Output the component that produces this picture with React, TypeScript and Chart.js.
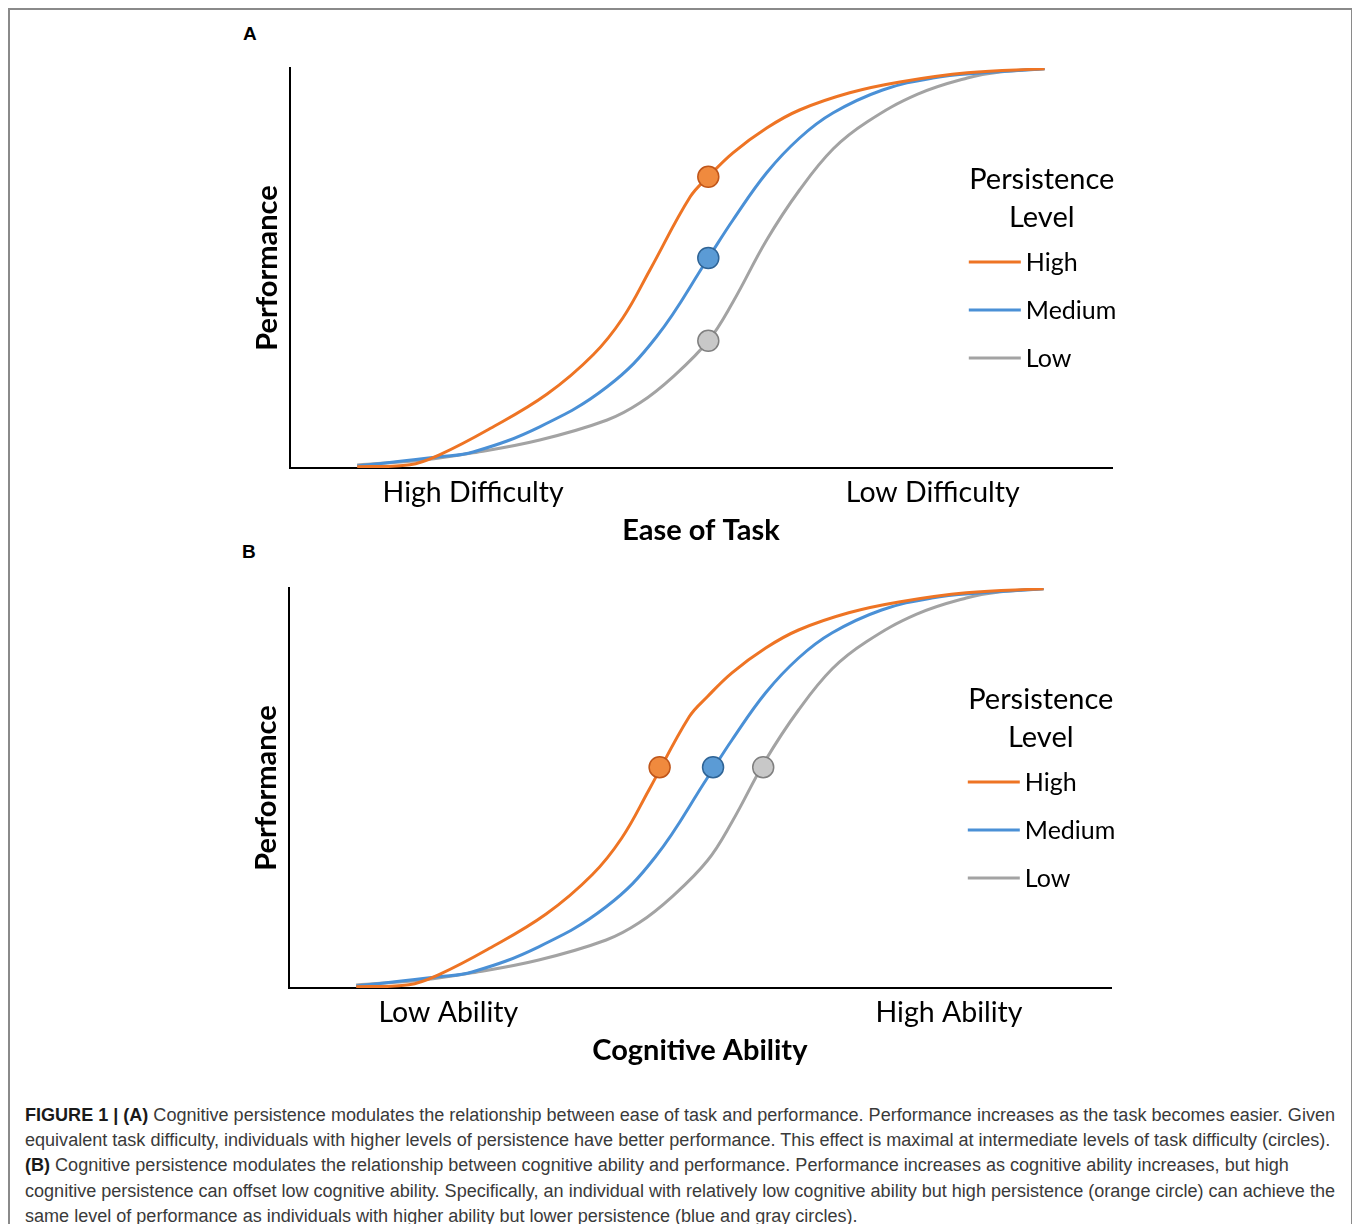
import React, { useEffect, useLayoutEffect, useRef, useState } from "react";
import { Chart, registerables } from "chart.js";

Chart.register(...registerables);

// ---- Data (x: ease / ability, 0–100; y: performance, 0–100) ----
const seriesLabels = ["High", "Medium", "Low"];
const seriesColors = ["#EE7424", "#4A90D6", "#A3A3A3"];
const markerFills = ["#F08A3E", "#5B9BD5", "#C8C8C8"];
const markerBorders = ["#C0561A", "#2F6496", "#808080"];

const highX = [8.2, 14.6, 18.2, 24.3, 31.3, 36.9, 40.5, 43.8, 48.7, 50.9, 53.9, 58.0, 62.0, 68.1, 74.2, 82.4, 91.8];
const highY = [0.3, 0.8, 3.3, 9.8, 18.5, 28.3, 37.5, 49.5, 67.8, 72.8, 78.8, 85.0, 89.5, 93.8, 96.5, 98.8, 99.8];
const mediumX = [8.2, 18.2, 22.3, 30.4, 38.6, 44.6, 50.9, 53.9, 58.0, 62.0, 66.1, 72.1, 78.2, 84.3, 91.8];
const mediumY = [0.5, 2.8, 4.0, 10.3, 20.3, 32.8, 52.5, 62.0, 73.8, 82.5, 88.8, 94.5, 97.5, 98.8, 99.8];
const lowX = [8.2, 16.2, 22.3, 30.4, 38.6, 42.6, 46.6, 50.9, 53.9, 58.0, 62.0, 66.1, 70.2, 76.3, 82.4, 86.4, 91.8];
const lowY = [0.75, 2.0, 3.8, 7.0, 12.0, 16.3, 22.8, 31.8, 41.5, 57.0, 69.5, 79.8, 86.5, 93.4, 97.5, 99.0, 99.8];

// circles (High, Medium, Low)
const dotsAX = [50.9, 50.9, 50.9];
const dotsAY = [72.8, 52.5, 31.8];
const dotsBX = [45.1, 51.6, 57.7];
const dotsBY = [55.2, 55.2, 55.2];

const ticksA = [22.3, 78.2];
const tickLabelsA = ["High Difficulty", "Low Difficulty"];
const ticksB = [19.4, 80.3];
const tickLabelsB = ["Low Ability", "High Ability"];

const legendTitle = ["Persistence", "Level"];

const captionLines = [
  [
    { b: true, t: "FIGURE 1 | (A)" },
    { b: false, t: " Cognitive persistence modulates the relationship between ease of task and performance. Performance increases as the task becomes easier. Given" },
  ],
  [{ b: false, t: "equivalent task difficulty, individuals with higher levels of persistence have better performance. This effect is maximal at intermediate levels of task difficulty (circles)." }],
  [
    { b: true, t: "(B)" },
    { b: false, t: " Cognitive persistence modulates the relationship between cognitive ability and performance. Performance increases as cognitive ability increases, but high" },
  ],
  [{ b: false, t: "cognitive persistence can offset low cognitive ability. Specifically, an individual with relatively low cognitive ability but high persistence (orange circle) can achieve the" }],
  [{ b: false, t: "same level of performance as individuals with higher ability but lower persistence (blue and gray circles)." }],
];

const FONT = "Lato, 'Open Sans', sans-serif";
const FS_TITLE = 29;
const FS_TICK = 28.5;
const FS_ITEM = 25;

const zip = (xs: number[], ys: number[]) => xs.map((x, i) => ({ x, y: ys[i] }));

const legendPlugin = {
  id: "persistenceLegend",
  afterDatasetsDraw(chart: any, _args: any, opts: any) {
    const { ctx, chartArea } = chart;
    ctx.save();
    ctx.fillStyle = "#000";
    ctx.textBaseline = "middle";
    ctx.textAlign = "center";
    ctx.font = `${FS_TITLE}px ${FONT}`;
    legendTitle.forEach((t, i) => {
      ctx.fillText(t, chartArea.left + opts.titleX, chartArea.top + opts.titleY + i * opts.titleGap);
    });
    ctx.textAlign = "left";
    ctx.font = `${FS_ITEM}px ${FONT}`;
    chart.data.datasets.slice(0, 3).forEach((d: any, i: number) => {
      const y = chartArea.top + opts.itemY + i * opts.itemGap;
      ctx.strokeStyle = d.borderColor;
      ctx.lineWidth = 3;
      ctx.beginPath();
      ctx.moveTo(chartArea.left + opts.lineX0, y);
      ctx.lineTo(chartArea.left + opts.lineX1, y);
      ctx.stroke();
      ctx.fillText(d.label, chartArea.left + opts.textX, y + 1);
    });
    ctx.restore();
  },
};

type PanelProps = {
  left: number;
  top: number;
  dotsX: number[];
  dotsY: number[];
  ticks: number[];
  tickLabels: string[];
  xTitle: string;
};

function Panel({ left, top, dotsX, dotsY, ticks, tickLabels, xTitle }: PanelProps) {
  const ref = useRef<HTMLCanvasElement>(null);
  useEffect(() => {
    const lines = [zip(highX, highY), zip(mediumX, mediumY), zip(lowX, lowY)];
    const datasets: any[] = lines.map((data, i) => ({
      label: seriesLabels[i],
      data,
      borderColor: seriesColors[i],
      backgroundColor: seriesColors[i],
      borderWidth: 3,
      pointRadius: 0,
      tension: 0.4,
      fill: false,
      order: 2,
    }));
    dotsX.forEach((x, i) => {
      datasets.push({
        label: seriesLabels[i] + " circle",
        data: [{ x, y: dotsY[i] }],
        showLine: false,
        pointRadius: 10.5,
        pointBackgroundColor: markerFills[i],
        pointBorderColor: markerBorders[i],
        pointBorderWidth: 1.5,
        order: 1,
      });
    });
    const chart = new Chart(ref.current!, {
      type: "line",
      data: { datasets },
      plugins: [legendPlugin],
      options: {
        animation: false,
        responsive: false,
        devicePixelRatio: 1,
        layout: { padding: { left: 16, top: 18, right: 28, bottom: 8 } },
        font: { family: FONT },
        scales: {
          x: {
            type: "linear",
            min: 0,
            max: 100,
            grid: { display: false, drawTicks: false },
            border: { display: true, color: "#000", width: 2 },
            afterBuildTicks: (axis: any) => {
              axis.ticks = ticks.map((v) => ({ value: v }));
            },
            ticks: {
              autoSkip: false,
              maxRotation: 0,
              padding: 8,
              color: "#000",
              font: { family: FONT, size: FS_TICK },
              callback: (_v: any, i: number) => tickLabels[i],
            },
            title: {
              display: true,
              text: xTitle,
              color: "#000",
              font: { family: FONT, size: FS_TITLE, weight: "bold" },
              padding: { top: -5, bottom: 4 },
            },
          },
          y: {
            type: "linear",
            min: 0,
            max: 100,
            grid: { display: false, drawTicks: false },
            border: { display: true, color: "#000", width: 2 },
            ticks: { display: false },
            title: {
              display: true,
              text: "Performance",
              color: "#000",
              font: { family: FONT, size: FS_TITLE, weight: "bold" },
              padding: { top: 4, bottom: 5 },
            },
          },
        },
        plugins: {
          legend: { display: false },
          tooltip: { enabled: false },
          persistenceLegend: {
            titleX: 752,
            titleY: 111.5,
            titleGap: 38,
            itemY: 194,
            itemGap: 48,
            lineX0: 679,
            lineX1: 731,
            textX: 736,
          },
        } as any,
      },
    } as any);
    return () => chart.destroy();
  }, []);
  return (
    <canvas
      ref={ref}
      width={910}
      height={510}
      style={{ position: "absolute", left, top, width: 910, height: 510 }}
    />
  );
}

function Caption() {
  const ref = useRef<HTMLDivElement>(null);
  const [k, setK] = useState(1);
  useLayoutEffect(() => {
    const el = ref.current;
    if (!el) return;
    const w = el.getBoundingClientRect().width;
    if (w > 0) setK(1310 / w);
  }, []);
  return (
    <div
      style={{
        position: "absolute",
        left: 17,
        top: 1095,
        fontFamily: "'Liberation Sans', Arial, sans-serif",
        fontSize: 18,
        lineHeight: "25.2px",
        color: "#3a3a3a",
        transform: `scaleX(${k})`,
        transformOrigin: "left top",
        whiteSpace: "nowrap",
      }}
    >
      {captionLines.map((line, i) => (
        <div key={i}>
          <span ref={i === 0 ? ref : undefined} style={{ display: "inline-block" }}>
            {line.map((p, j) => (
              <span key={j} style={p.b ? { fontWeight: "bold", color: "#1a1a1a" } : undefined}>
                {p.t}
              </span>
            ))}
          </span>
        </div>
      ))}
    </div>
  );
}

export default function App() {
  useEffect(() => {
    document.documentElement.style.overflow = "hidden";
    document.body.style.overflow = "hidden";
  }, []);
  const labelStyle: React.CSSProperties = {
    position: "absolute",
    fontFamily: "'Liberation Sans', Arial, sans-serif",
    fontWeight: "bold",
    fontSize: 19,
    lineHeight: "20px",
    color: "#000",
  };
  return (
    <div style={{ position: "relative", width: 1344, height: 1216, background: "#fff" }}>
      <div
        style={{
          position: "absolute",
          left: 0,
          top: 0,
          width: 1345,
          height: 1260,
          boxSizing: "border-box",
          border: "2px solid #8a8a8a",
        }}
      />
      <div style={{ ...labelStyle, left: 235, top: 16 }}>A</div>
      <div style={{ ...labelStyle, left: 234, top: 534 }}>B</div>
      <Panel
        left={222}
        top={42}
        dotsX={dotsAX}
        dotsY={dotsAY}
        ticks={ticksA}
        tickLabels={tickLabelsA}
        xTitle="Ease of Task"
      />
      <Panel
        left={221}
        top={562}
        dotsX={dotsBX}
        dotsY={dotsBY}
        ticks={ticksB}
        tickLabels={tickLabelsB}
        xTitle="Cognitive Ability"
      />
      <Caption />
    </div>
  );
}
